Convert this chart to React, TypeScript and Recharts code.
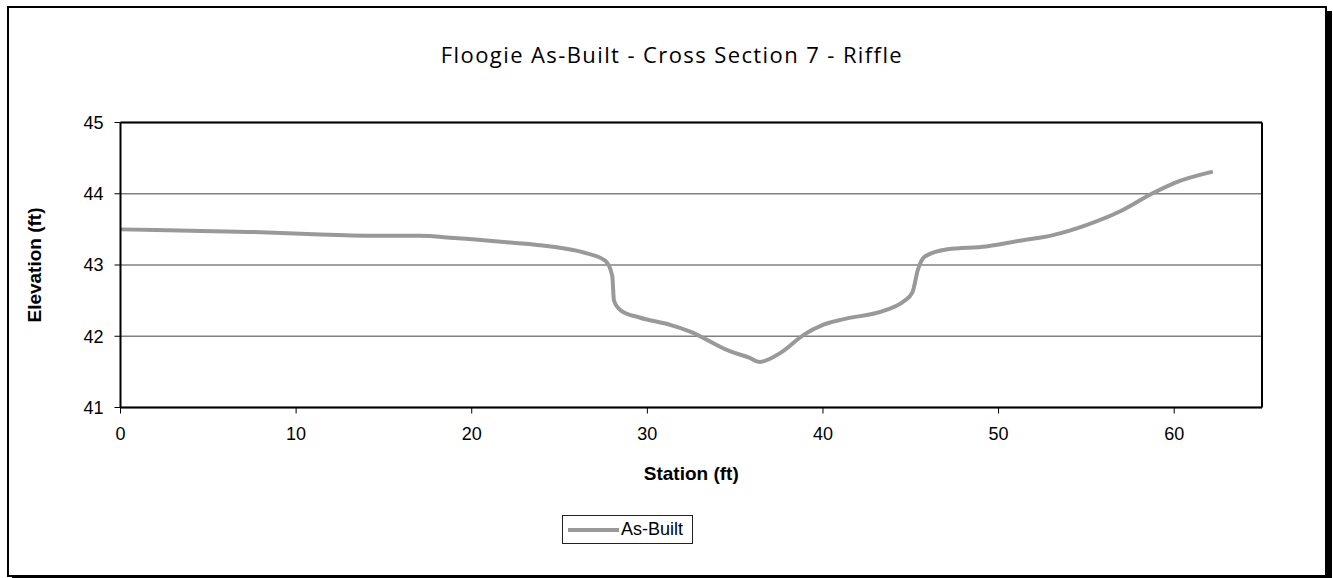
import React from 'react';
import { LineChart, Line, XAxis, YAxis, CartesianGrid, ReferenceLine, Legend } from 'recharts';

const stations = [
  0, 4, 8, 11, 14.5, 17, 19, 22, 24.5, 26.3, 27.6, 28.0, 28.1, 28.5, 29.6, 31.3, 32.4, 34.7, 35.8, 36.4,
  37.6, 38.9, 40.0, 41.2, 43.6, 44.6, 45.1, 45.4, 45.8, 47.1, 49.3, 51.2, 53.1, 55.0, 56.9, 58.8, 60.0, 62.2,
];
const elevations = [
  43.5, 43.48, 43.46, 43.43, 43.41, 43.41, 43.38, 43.32, 43.26, 43.18, 43.06, 42.85, 42.5, 42.36, 42.26, 42.16,
  42.07, 41.79, 41.7, 41.64, 41.77, 42.02, 42.16, 42.24, 42.37, 42.49, 42.62, 42.93, 43.12, 43.22, 43.26, 43.34,
  43.42, 43.56, 43.75, 44.01, 44.15, 44.31,
];
const xTicks = [0, 10, 20, 30, 40, 50, 60];
const yTicks = [41, 42, 43, 44, 45];

const data = stations.map((s, i) => ({ station: s, elev: elevations[i] }));

const tickFont = { fontFamily: '"Liberation Sans", Arial, sans-serif', fontSize: 18, fill: '#000' };

const YTitle = ({ viewBox }: any) => {
  const cx = viewBox.x + viewBox.width - 86;
  const cy = viewBox.y + viewBox.height / 2;
  return (
    <text
      x={cx}
      y={cy}
      transform={`rotate(-90 ${cx} ${cy})`}
      textAnchor="middle"
      dominantBaseline="central"
      style={{ fontFamily: '"Liberation Sans", Arial, sans-serif', fontSize: 19, fontWeight: 'bold' }}
    >
      Elevation (ft)
    </text>
  );
};

const XTitle = ({ viewBox }: any) => (
  <text
    x={viewBox.x + viewBox.width / 2}
    y={viewBox.y + 66}
    textAnchor="middle"
    dominantBaseline="central"
    style={{ fontFamily: '"Liberation Sans", Arial, sans-serif', fontSize: 19, fontWeight: 'bold' }}
  >
    Station (ft)
  </text>
);

const LegendBox = () => (
  <div
    style={{
      display: 'flex',
      alignItems: 'center',
      border: '1px solid #222',
      width: 131,
      height: 29,
      boxSizing: 'border-box',
      fontFamily: '"Liberation Sans", Arial, sans-serif',
      fontSize: 18,
      background: '#fff',
    }}
  >
    <span style={{ display: 'inline-block', width: 51, height: 4, background: '#999', marginLeft: 5, marginRight: 2 }} />
    <span>As-Built</span>
  </div>
);

export default function App() {
  return (
    <div
      style={{
        position: 'absolute',
        left: 7,
        top: 6,
        width: 1320,
        height: 571,
        boxSizing: 'border-box',
        border: '2px solid #000',
        boxShadow: '5px 5px 0 #000',
        background: '#fff',
      }}
    >
      <div
        style={{
          position: 'absolute',
          left: 10,
          right: 0,
          top: 31,
          textAlign: 'center',
          fontFamily: '"Open Sans", Lato, sans-serif',
          fontSize: 22,
          letterSpacing: 1.4,
        }}
      >
        Floogie As-Built - Cross Section 7 - Riffle
      </div>
      <LineChart
        width={1316}
        height={567}
        data={data}
        margin={{ top: 114.5, right: 63, left: 51.5, bottom: 137.5 }}
      >
        <CartesianGrid horizontal vertical={false} stroke="#808080" strokeWidth={1.5} />
        <XAxis
          type="number"
          dataKey="station"
          domain={[0, 65]}
          ticks={xTicks}
          interval={0}
          height={30}
          tick={tickFont}
          tickSize={6}
          tickMargin={14}
          axisLine={{ stroke: '#000', strokeWidth: 2 }}
          tickLine={{ stroke: '#000' }}
          label={<XTitle />}
        />
        <YAxis
          type="number"
          domain={[41, 45]}
          ticks={yTicks}
          interval={0}
          width={60}
          tick={tickFont}
          tickSize={6}
          tickMargin={11}
          axisLine={{ stroke: '#000', strokeWidth: 2 }}
          tickLine={{ stroke: '#000' }}
          label={<YTitle />}
        />
        <ReferenceLine y={45} stroke="#000" strokeWidth={2} />
        <ReferenceLine x={65} stroke="#000" strokeWidth={2} />
        <Line
          type="monotone"
          dataKey="elev"
          stroke="#999999"
          strokeWidth={4}
          dot={false}
          isAnimationActive={false}
          name="As-Built"
        />
        <Legend
          layout="horizontal"
          verticalAlign="middle"
          align="center"
          content={<LegendBox />}
          wrapperStyle={{ left: 553, top: 507, width: 'auto' }}
        />
      </LineChart>
    </div>
  );
}
